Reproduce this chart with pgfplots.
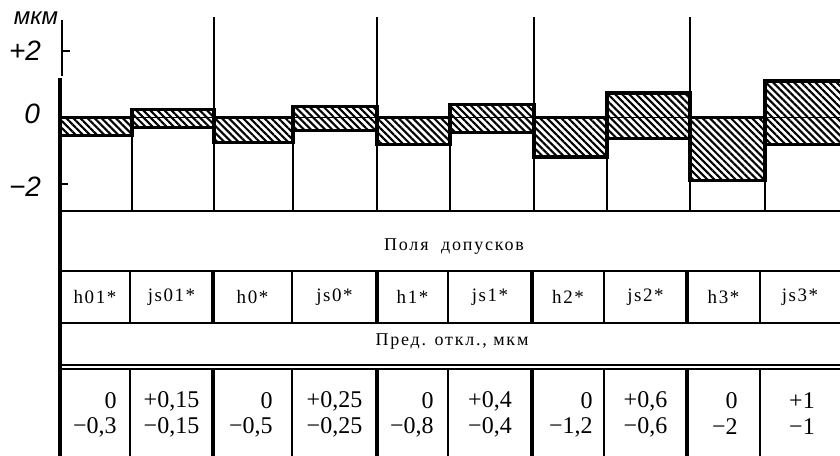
\documentclass[border=0pt]{standalone}
\usepackage{pgfplots}
\pgfplotsset{compat=1.18}
\usepackage{fontspec}
\setmainfont{Liberation Serif}
\newfontfamily\gost{Liberation Sans}
\usetikzlibrary{patterns.meta}
\pgfplotsset{
  box/.style={draw=black, line width=1.6pt, line join=miter,
    pattern={Lines[angle=-45,distance=2.5pt,line width=1.05pt]}},
}
\begin{document}
\begin{tikzpicture}[declare function={P(\y)=(117.5-\y)/33.25;},
  ax/.style={font=\gost\itshape\fontsize{14}{14}\selectfont},
  val/.style={font=\fontsize{12}{12}\selectfont, inner sep=0pt},
  nam/.style={font=\fontsize{9.5}{9.5}\selectfont\addfontfeature{LetterSpace=8}, inner sep=0pt}]
\begin{axis}[scale only axis, width=420pt, height=227.5pt,
  xmin=0, xmax=840, ymin=-10.150, ymax=3.534, hide axis, clip=false]
\coordinate (SW) at (axis cs:0,-10.150);
\coordinate (NE) at (axis cs:840,3.534);
% tolerance fields (upper / lower deviation as drawn, micrometres)
\addplot[box] coordinates {(60,0) (132,0) (132,-0.53) (60,-0.53)} -- cycle;      % h01
\addplot[box] coordinates {(132,0.23) (214,0.23) (214,-0.29) (132,-0.29)} -- cycle; % js01
\addplot[box] coordinates {(214,0) (293,0) (293,-0.74) (214,-0.74)} -- cycle;      % h0
\addplot[box] coordinates {(293,0.32) (377,0.32) (377,-0.38) (293,-0.38)} -- cycle; % js0
\addplot[box] coordinates {(377,0) (450,0) (450,-0.80) (377,-0.80)} -- cycle;      % h1
\addplot[box] coordinates {(450,0.38) (534,0.38) (534,-0.44) (450,-0.44)} -- cycle; % js1
\addplot[box] coordinates {(534,0) (607,0) (607,-1.19) (534,-1.19)} -- cycle;      % h2
\addplot[box] coordinates {(607,0.74) (690,0.74) (690,-0.62) (607,-0.62)} -- cycle; % js2
\addplot[box] coordinates {(690,0) (765,0) (765,-1.89) (690,-1.89)} -- cycle;      % h3
\addplot[box] coordinates {(845,1.10) (765,1.10) (765,-0.80) (845,-0.80)};          % js3
\addplot[black, line width=0.5pt] coordinates {(60,0) (845,0)};
% axis
\draw[line width=1.6pt] (axis cs:60,{P(78)}) -- (axis cs:60,{P(457)});
\draw[line width=0.9pt] (axis cs:62,{P(20)}) -- (axis cs:62,{P(76)});
\draw[line width=0.8pt] (axis cs:62,2) -- (axis cs:70,2);
\draw[line width=0.8pt] (axis cs:60,-2) -- (axis cs:68,-2);
\node[font=\gost\itshape\fontsize{12}{12}\selectfont] at (axis cs:36,{P(18)}) {мкм};
\node[ax, anchor=east] at (axis cs:48,2) {+2};
\node[ax, anchor=east] at (axis cs:47,{P(114)}) {0};
\node[ax, anchor=east] at (axis cs:48,{P(187)}) {−2};
% field boundaries
\pgfplotsinvokeforeach{214,377,534,690}{
  \draw[line width=1pt] (axis cs:#1,{P(17)}) -- (axis cs:#1,{P(211)});
}
\draw[line width=0.6pt] (axis cs:132,-0.53) -- (axis cs:132,{P(211)});
\draw[line width=0.6pt] (axis cs:293,-0.74) -- (axis cs:293,{P(211)});
\draw[line width=0.6pt] (axis cs:450,-0.80) -- (axis cs:450,{P(211)});
\draw[line width=0.6pt] (axis cs:607,-1.19) -- (axis cs:607,{P(211)});
\draw[line width=0.6pt] (axis cs:765,-1.89) -- (axis cs:765,{P(211)});
% table
\draw[line width=1.4pt] (axis cs:59,{P(211)}) -- (axis cs:845,{P(211)});
\pgfplotsinvokeforeach{271,323,365,369}{
  \draw[line width=0.8pt] (axis cs:60,{P(#1)}) -- (axis cs:845,{P(#1)});
}
\pgfplotsinvokeforeach{213,377,532,687}{
  \draw[line width=1.6pt] (axis cs:#1,{P(271)}) -- (axis cs:#1,{P(323)});
  \draw[line width=1.6pt] (axis cs:#1,{P(369)}) -- (axis cs:#1,{P(460)});
}
\pgfplotsinvokeforeach{130,292,448,604,760}{
  \draw[line width=0.7pt] (axis cs:#1,{P(271)}) -- (axis cs:#1,{P(323)});
  \draw[line width=0.7pt] (axis cs:#1,{P(369)}) -- (axis cs:#1,{P(460)});
}
\node[font=\fontsize{9}{9}\selectfont\addfontfeature{LetterSpace=10}] at (axis cs:454,{P(247)}) {Поля\ \ допусков};
\node[font=\fontsize{9}{9}\selectfont\addfontfeature{LetterSpace=10}] at (axis cs:452,{P(342)}) {Пред. откл., мкм};
\node[nam] at (axis cs:95,{P(297)}) {h01*};
\node[nam] at (axis cs:171.5,{P(297)}) {js01*};
\node[nam] at (axis cs:252.5,{P(297)}) {h0*};
\node[nam] at (axis cs:334.5,{P(297)}) {js0*};
\node[nam] at (axis cs:412.5,{P(297)}) {h1*};
\node[nam] at (axis cs:490,{P(297)}) {js1*};
\node[nam] at (axis cs:568,{P(297)}) {h2*};
\node[nam] at (axis cs:645.5,{P(297)}) {js2*};
\node[nam] at (axis cs:723.5,{P(297)}) {h3*};
\node[nam] at (axis cs:800,{P(297)}) {js3*};
% limit deviations
\node[val, anchor=east] at (axis cs:117,{P(401)}) {0};
\node[val, anchor=east] at (axis cs:117,{P(427)}) {−0,3};
\node[val] at (axis cs:171.5,{P(401)}) {+0,15};
\node[val] at (axis cs:171.5,{P(427)}) {−0,15};
\node[val, anchor=east] at (axis cs:273,{P(401)}) {0};
\node[val, anchor=east] at (axis cs:273,{P(427)}) {−0,5};
\node[val] at (axis cs:334.5,{P(401)}) {+0,25};
\node[val] at (axis cs:334.5,{P(427)}) {−0,25};
\node[val, anchor=east] at (axis cs:434,{P(401)}) {0};
\node[val, anchor=east] at (axis cs:434,{P(427)}) {−0,8};
\node[val] at (axis cs:490,{P(401)}) {+0,4};
\node[val] at (axis cs:490,{P(427)}) {−0,4};
\node[val, anchor=east] at (axis cs:593,{P(401)}) {0};
\node[val, anchor=east] at (axis cs:593,{P(427)}) {−1,2};
\node[val] at (axis cs:645.5,{P(401)}) {+0,6};
\node[val] at (axis cs:645.5,{P(427)}) {−0,6};
\node[val, anchor=east] at (axis cs:738,{P(401)}) {0};
\node[val, anchor=east] at (axis cs:738,{P(427)}) {−2};
\node[val] at (axis cs:802,{P(401)}) {+1};
\node[val] at (axis cs:802,{P(427)}) {−1};
\end{axis}
\pgfresetboundingbox
\useasboundingbox (SW) rectangle (NE);
\end{tikzpicture}
\end{document}
